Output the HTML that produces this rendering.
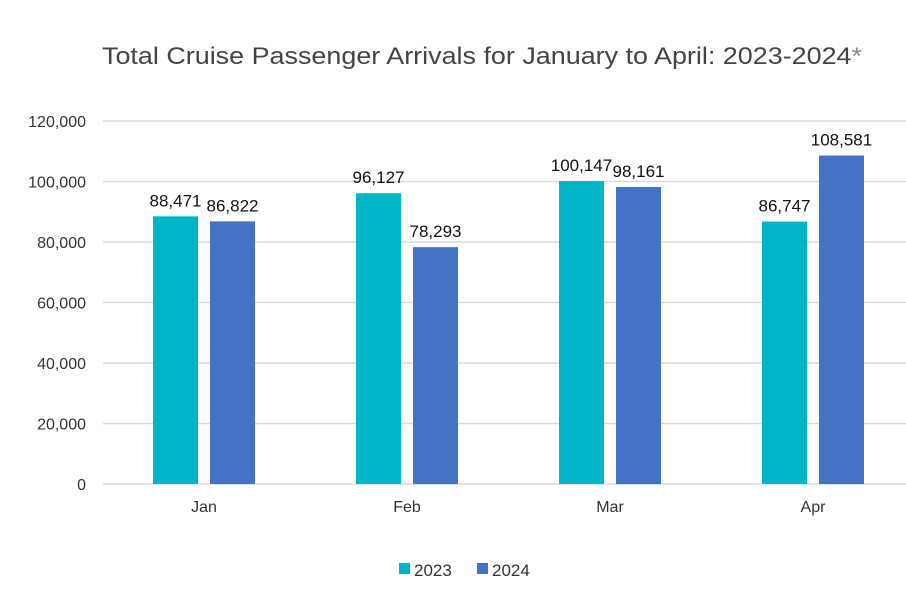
<!DOCTYPE html>
<html><head><meta charset="utf-8"><style>
body{margin:0;background:#fff;}
svg text{font-family:"Liberation Sans",sans-serif;}
</style></head><body>
<svg id="chart" width="906" height="587" viewBox="0 0 906 587">
<text x="482" y="64" text-anchor="middle" font-size="24" fill="#444" textLength="760" lengthAdjust="spacingAndGlyphs">Total Cruise Passenger Arrivals for January to April: 2023-2024<tspan fill="#888">*</tspan></text>
<g id="grid"></g><g id="bars"></g>
<g>
<rect x="399" y="563" width="11" height="11" fill="#00b5c8"/>
<text x="414" y="576" font-size="17" fill="#333">2023</text>
<rect x="477" y="563" width="11" height="11" fill="#4472c4"/>
<text x="492" y="576" font-size="17" fill="#333">2024</text>
</g>
</svg>
<script>
const categories=["Jan","Feb","Mar","Apr"];
const series2023=[88471,96127,100147,86747];
const series2024=[86822,78293,98161,108581];
const yTicks=[0,20000,40000,60000,80000,100000,120000];
const ns="http://www.w3.org/2000/svg";
const y0=484,yTop=121,yMax=120000,xStart=102.5,band=203;
const y=v=>y0-(v/yMax)*(y0-yTop);
const xc=i=>xStart+band*(i+0.5);
function mk(t,a,p){const e=document.createElementNS(ns,t);for(const k in a)e.setAttribute(k,a[k]);p.appendChild(e);return e;}
const g=document.getElementById('grid'),b=document.getElementById('bars');
yTicks.forEach(v=>{
 const l=mk('line',{x1:103,x2:906,y1:y(v),y2:y(v),stroke:'#d9d9d9','stroke-width':1.5},g);
 
 
 const t=mk('text',{x:86,y:y(v)+6,'text-anchor':'end','font-size':16,fill:'#333'},g);
 t.textContent=v.toLocaleString('en-US');
 
 
});
categories.forEach((c,i)=>{
 [[series2023,'#00b5c8',-28.5,'2023'],[series2024,'#4472c4',28.5,'2024']].forEach(([s,col,off,yr])=>{
  const cx=xc(i)+off;
  const r=mk('rect',{x:cx-22.5,y:y(s[i]),width:45,height:y0-y(s[i]),fill:col},b);
  
  
  const t=mk('text',{x:cx,y:y(s[i])-10,'text-anchor':'middle','font-size':17,fill:'#111'},b);
  t.textContent=s[i].toLocaleString('en-US');
  
  
 });
 const t=mk('text',{x:xc(i),y:512,'text-anchor':'middle','font-size':16,fill:'#333'},b);
 t.textContent=c;
 
 
});
</script>
</body></html>
